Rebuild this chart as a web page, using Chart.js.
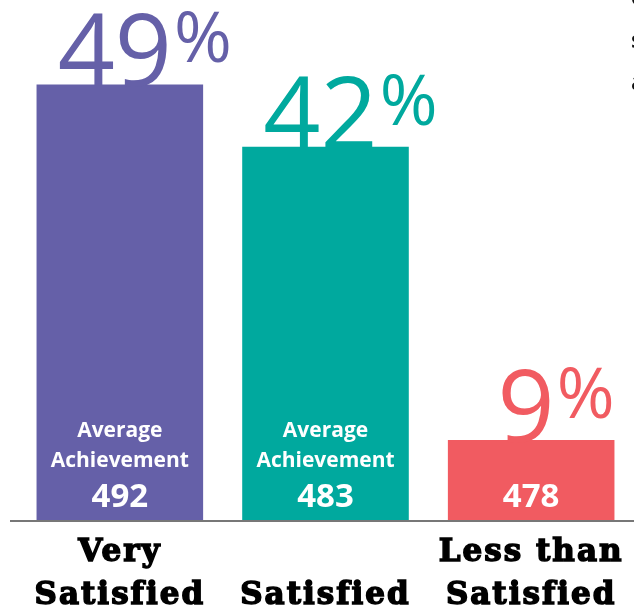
<!DOCTYPE html>
<html>
<head>
<meta charset="utf-8">
<script src="https://cdn.jsdelivr.net/npm/chart.js@4.4.1/dist/chart.umd.min.js"></script>
<style>
  html, body { margin: 0; padding: 0; background: #fff; }
  #wrap { width: 634px; height: 611px; position: relative; }
</style>
</head>
<body>
<div id="wrap"><canvas id="myChart" width="634" height="611"></canvas></div>
<script>
'use strict';
// chart data
const categories = [['Very', 'Satisfied'], ['', 'Satisfied'], ['Less than', 'Satisfied']];
const shares = [49, 42, 9];
const achievement = [492, 483, 478];
const showCaption = [true, true, false];
const colors = ['#6560A8', '#00A99E', '#F15B61'];

// wider slab-looking category labels
const spacing = {
    id: 'spacing',
    beforeDraw(chart) {
        chart.ctx.letterSpacing = '2px';
    },
    afterDraw(chart) {
        chart.ctx.letterSpacing = '0px';
    }
};

// percent + achievement labels drawn on the bars
const barLabels = {
    id: 'barLabels',
    afterDatasetsDraw(chart) {
        const ctx = chart.ctx;
        const meta = chart.getDatasetMeta(0);
        const base = chart.scales.y.getPixelForValue(0);
        ctx.save();
        ctx.letterSpacing = '0px';
        meta.data.forEach(function (bar, i) {
            const num = String(shares[i]);
            // big percentage
            ctx.fillStyle = colors[i];
            ctx.textBaseline = 'alphabetic';
            ctx.font = '400 100px "Open Sans"';
            const w = ctx.measureText(num).width;
            const x0 = bar.x - w / 2 - 5;
            ctx.textAlign = 'left';
            ctx.fillText(num, x0, bar.y + 2);
            ctx.font = '400 70px "Open Sans"';
            ctx.fillText('%', x0 + w + 2, bar.y - 22);

            // white captions inside the bar
            ctx.fillStyle = '#fff';
            ctx.textAlign = 'center';
            if (showCaption[i]) {
                ctx.font = 'bold 21px "Open Sans"';
                ctx.fillText('Average', bar.x, base - 83);
                ctx.fillText('Achievement', bar.x, base - 53);
            }
            ctx.font = 'bold 33px "Open Sans"';
            ctx.fillText(String(achievement[i]), bar.x, base - 13);
        });
        // baseline
        ctx.strokeStyle = '#777';
        ctx.lineWidth = 2;
        ctx.beginPath();
        ctx.moveTo(10, base + 1);
        ctx.lineTo(chart.width, base + 1);
        ctx.stroke();
        // cut-off text at the right edge
        ctx.fillStyle = '#111';
        ctx.font = 'bold 24px "Open Sans"';
        ctx.textAlign = 'left';
        ctx.fillText('c', 631, 5);
        ctx.fillText('s', 631, 48);
        ctx.fillText('a', 631, 90);
        ctx.restore();
    }
};

const config = {
    type: 'bar',
    data: {
        labels: categories,
        datasets: [{
            data: shares,
            backgroundColor: colors,
            barPercentage: 0.9,
            categoryPercentage: 0.9,
        }],
    },
    options: {
        responsive: false,
        animation: false,
        layout: { padding: { left: 17, right: 0, top: 0, bottom: -17 } },
        scales: {
            x: {
                grid: { display: false, drawTicks: false },
                border: { display: false },
                ticks: {
                    color: '#000',
                    font: { family: '"DejaVu Serif"', weight: 'bold', size: 31, lineHeight: 1.387 },
                    textStrokeColor: '#000',
                    textStrokeWidth: 1.5,
                    padding: 11,
                    maxRotation: 0,
                    autoSkip: false,
                },
            },
            y: {
                display: false,
                min: 0,
                max: 58.5,
            },
        },
        plugins: {
            legend: { display: false },
            tooltip: { enabled: false },
        },
    },
    plugins: [spacing, barLabels],
};
const myChart = new Chart(document.getElementById('myChart'), config);
</script>
</body>
</html>
